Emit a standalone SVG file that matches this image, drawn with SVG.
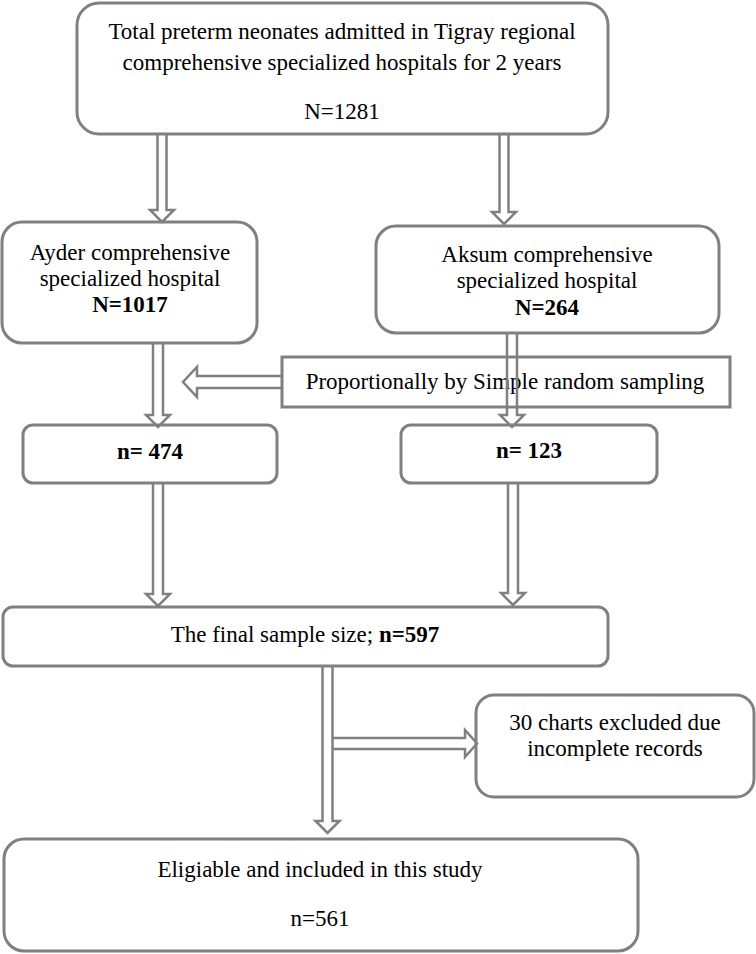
<svg xmlns="http://www.w3.org/2000/svg" width="756" height="954" viewBox="0 0 756 954">
<style>
.box{fill:#fff;stroke:#808080;stroke-width:3}
.arr{fill:none;stroke:#808080;stroke-width:2.5;stroke-linejoin:miter}
text{font-family:"Liberation Serif","Times New Roman",serif;font-size:23px;fill:#000;text-anchor:middle}
.b{font-weight:bold}
</style>
<rect width="756" height="954" fill="#fff"/>
<g id="n-total">
<rect class="box" x="77" y="3" width="531" height="131" rx="22"/>
<text x="342" y="39">Total preterm neonates admitted in Tigray regional</text>
<text x="342" y="70">comprehensive specialized hospitals for 2 years</text>
<text x="342" y="119">N=1281</text>
</g>
<g id="n-ayder">
<rect class="box" x="2" y="222" width="255" height="121" rx="20"/>
<text x="130" y="260">Ayder comprehensive</text>
<text x="130" y="286">specialized hospital</text>
<text x="130" y="312" class="b">N=1017</text>
</g>
<g id="n-aksum">
<rect class="box" x="376" y="226" width="343" height="107" rx="20"/>
<text x="547" y="262">Aksum comprehensive</text>
<text x="547" y="288">specialized hospital</text>
<text x="547" y="315" class="b">N=264</text>
</g>
<g id="n-sampling">
<rect class="box" x="282" y="357" width="448" height="50"/>
<text x="505" y="389">Proportionally by Simple random sampling</text>
</g>
<g id="n-474">
<rect class="box" x="23" y="425" width="254" height="58" rx="10"/>
<text x="150" y="459" class="b">n= 474</text>
</g>
<g id="n-123">
<rect class="box" x="401" y="425" width="256" height="58" rx="10"/>
<text x="529" y="458" class="b">n= 123</text>
</g>
<g id="n-final">
<rect class="box" x="3" y="607" width="605" height="59" rx="10"/>
<text x="305" y="642">The final sample size; <tspan class="b">n=597</tspan></text>
</g>
<g id="n-excluded">
<rect class="box" x="476" y="695" width="278" height="102" rx="18"/>
<text x="615" y="730">30 charts excluded due</text>
<text x="615" y="756">incomplete records</text>
</g>
<g id="n-eligible">
<rect class="box" x="4" y="839" width="634" height="112" rx="20"/>
<text x="320" y="877">Eligiable and included in this study</text>
<text x="320" y="926">n=561</text>
</g>
<g id="connectors">
<path class="arr" d="M157.5,135 V210 H150 L162,222 L174,210 H166.5 V135"/>
<path class="arr" d="M499.5,135 V212 H492 L504,224 L516,212 H508.5 V135"/>
<path class="arr" d="M153,344 V415 H146 L158,427 L170,415 H163 V344"/>
<path class="arr" d="M507,334 V415 H500 L512,427 L524,415 H517 V334"/>
<path class="arr" d="M281,376 H197 V367 L183,382 L197,397 V388 H281"/>
<path class="arr" d="M153,484 V594 H146 L158,606 L170,594 H163 V484"/>
<path class="arr" d="M508,484 V593 H501 L513,605 L525,593 H518 V484"/>
<path class="arr" d="M322.5,667 V821 H315.5 L327.5,833 L339.5,821 H332.5 V667"/>
<path class="arr" d="M333,738 H465 V730 L477,743.5 L465,757 V749 H333"/>
</g>
</svg>
